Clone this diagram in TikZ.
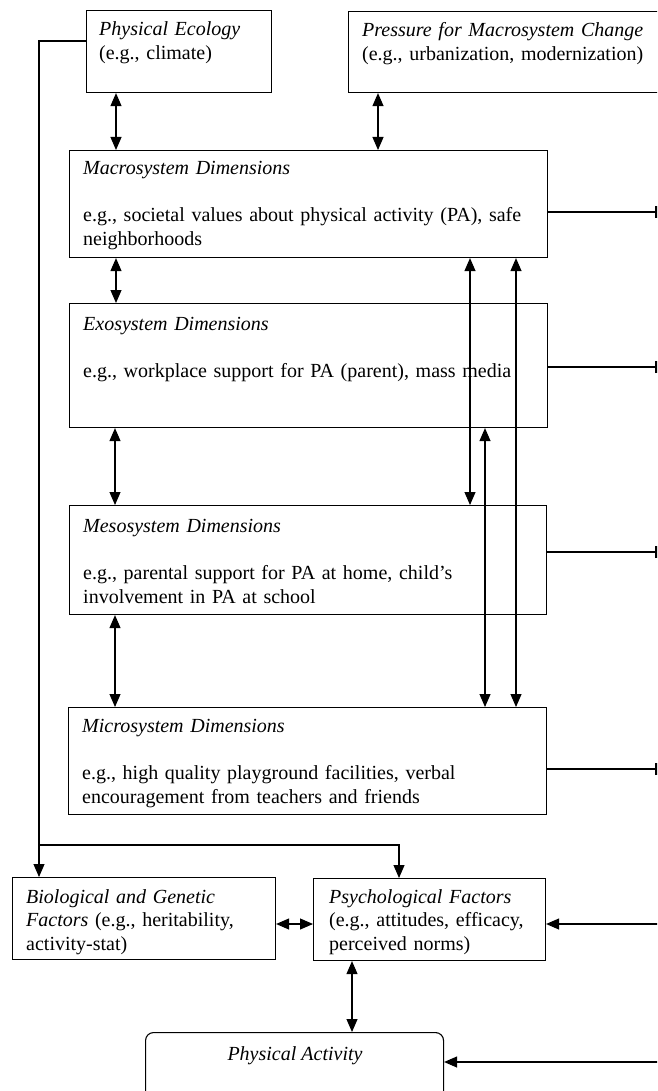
\documentclass[tikz,border=0pt]{standalone}
\usepackage{fontspec}
\setmainfont{Liberation Serif}
\usetikzlibrary{arrows.meta}
\tikzset{
  box/.style={draw, line width=1.1pt, inner sep=0pt, anchor=north west},
  txt/.style={inner sep=0pt, anchor=base west, align=left, text width=470pt,
    font=\fontsize{20pt}{23.5pt}\selectfont},
  conn/.style={line width=1.1pt},
  dbl/.style={line width=1.1pt, {Triangle[length=13pt,width=11pt]}-{Triangle[length=13pt,width=11pt]}},
  sgl/.style={line width=1.1pt, -{Triangle[length=13pt,width=11pt]}},
  tick/.style={line width=3pt}
}
\begin{document}
\begin{tikzpicture}[x=1pt,y=-1pt]
\useasboundingbox[fill=white] (0,0) rectangle (657,1091);
\clip (0,0) rectangle (657,1091);
% boxes
\node[box, minimum width=185pt, minimum height=82pt] (pe) at (86,10) {};
\node[box, minimum width=320pt, minimum height=81pt] (pr) at (348,11) {};
\node[box, minimum width=478pt, minimum height=107pt] (ma) at (69,150) {};
\node[box, minimum width=478pt, minimum height=124pt] (ex) at (69,303) {};
\node[box, minimum width=477pt, minimum height=109pt] (me) at (69,505) {};
\node[box, minimum width=478pt, minimum height=107pt] (mi) at (68,707) {};
\node[box, minimum width=263pt, minimum height=82pt] (bi) at (12,877) {};
\node[box, minimum width=232pt, minimum height=82pt] (ps) at (313,878) {};
\node[box, rounded corners=8pt, minimum width=298pt, minimum height=70pt] (pa) at (145,1032) {};
% texts
\node[txt] (peT) at (99,36) {\textit{Physical Ecology}\\(e.g., climate)};
\node[txt] (prT) at (362,37) {\textit{Pressure for Macrosystem Change}\\(e.g., urbanization, modernization)};
\node[txt] (maT) at (83,175) {\textit{Macrosystem Dimensions}\\[23.5pt]e.g., societal values about physical activity (PA), safe\\neighborhoods};
\node[txt] (exT) at (83,330) {\textit{Exosystem Dimensions}\\[24pt]e.g., workplace support for PA (parent), mass media};
\node[txt] (meT) at (83,532) {\textit{Mesosystem Dimensions}\\[24pt]e.g., parental support for PA at home, child’s\\involvement in PA at school};
\node[txt] (miT) at (82,732) {\textit{Microsystem Dimensions}\\[24pt]e.g., high quality playground facilities, verbal\\encouragement from teachers and friends};
\node[txt] (biT) at (26,903) {\textit{Biological and Genetic}\\\textit{Factors} (e.g., heritability,\\activity-stat)};
\node[txt] (psT) at (329,903) {\textit{Psychological Factors}\\(e.g., attitudes, efficacy,\\perceived norms)};
\node[inner sep=0pt, anchor=base, font=\fontsize{20pt}{23.5pt}\selectfont] (paT) at (295,1060) {\textit{Physical Activity}};
% helper coordinates
\coordinate (xA) at (116,0);
\coordinate (xB) at (378,0);
\coordinate (xC) at (470,0);
\coordinate (xD) at (485,0);
\coordinate (xE) at (516,0);
\coordinate (xL) at (39,0);
\coordinate (xP) at (399,0);
\coordinate (xQ) at (352,0);
\coordinate (yPE) at (0,41);
\coordinate (yH) at (0,845);
\coordinate (yR) at (0,924);
\coordinate (yPA) at (0,1062);
\coordinate (rMa) at (656,212);
\coordinate (rEx) at (656,367);
\coordinate (rMe) at (656,552);
\coordinate (rMi) at (656,769);
\coordinate (rPs) at (660,924);
\coordinate (rPa) at (660,1062);
% vertical double arrows
\draw[dbl] (pe.south -| xA) -- (ma.north -| xA);
\draw[dbl] (pr.south -| xB) -- (ma.north -| xB);
\draw[dbl] (ma.south -| xA) -- (ex.north -| xA);
\draw[dbl] ([xshift=-1pt]ex.south -| xA) -- ([xshift=-1pt]me.north -| xA);
\draw[dbl] ([xshift=-1pt]me.south -| xA) -- ([xshift=-1pt]mi.north -| xA);
\draw[dbl] (ma.south -| xC) -- (me.north -| xC);
\draw[dbl] (ma.south -| xE) -- (mi.north -| xE);
\draw[dbl] (ex.south -| xD) -- (mi.north -| xD);
% physical ecology feed
\draw[sgl] (pe.west |- yPE) -| (bi.north -| xL);
\draw[sgl] (xL |- yH) -| (ps.north -| xP);
% right side outputs
\draw[conn] (ma.east |- rMa) -- (rMa);
\draw[conn] (ex.east |- rEx) -- (rEx);
\draw[conn] (me.east |- rMe) -- (rMe);
\draw[conn] (mi.east |- rMi) -- (rMi);
\foreach \c in {rMa,rEx,rMe,rMi}{
  \draw[tick] ([yshift=-6pt]\c) -- ([yshift=6pt]\c);
}
% right side inputs
\draw[sgl] (rPs) -- (ps.east |- rPs);
\draw[sgl] (rPa) -- (pa.east |- rPa);
% bottom connections
\draw[dbl] (bi.east |- yR) -- (ps.west |- yR);
\draw[dbl] (ps.south -| xQ) -- (pa.north -| xQ);
\end{tikzpicture}
\end{document}
